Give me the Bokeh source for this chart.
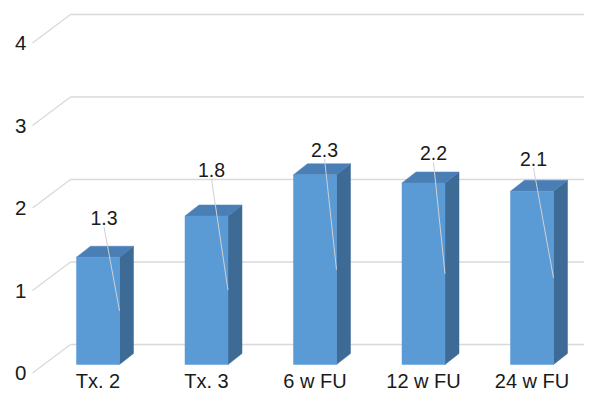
from bokeh.plotting import figure
from bokeh.models import Range1d
from bokeh.core.properties import value
from bokeh.embed import file_html
from bokeh.resources import INLINE

# ---------------- data ----------------
categories = ["Tx. 2", "Tx. 3", "6 w FU", "12 w FU", "24 w FU"]
values = [1.3, 1.8, 2.3, 2.2, 2.1]
value_labels = ["1.3", "1.8", "2.3", "2.2", "2.1"]
y_ticks = [0, 1, 2, 3, 4]
y_tick_labels = ["0", "1", "2", "3", "4"]

# ---------------- layout / style (pixels are figure pixels) ----------------
W, H = 584, 392
PX_X = 108.5             # px per category step
PX_Y = 82.5              # px per value unit
FIRST_CENTER_PX = 97.5   # first bar centre from figure left
ZERO_PX = 364            # bar-front plane zero from figure top
FRONT_OFF = -8.5 / PX_Y  # front plane (tick labels, diagonal start) vs bar plane
BACK_OFF = 20.0 / PX_Y   # back wall vs bar plane
DIAG_X0 = 32.0           # px, left end of floor diagonals
WALL_DX = 38.0 / PX_X
BAR_HALF = 21.5 / PX_X
DEPTH_X = 14.0 / PX_X
DEPTH_Y = 11.0 / PX_Y
TICK_LABEL_X = 26.0      # px, right edge of y tick labels
LABEL_DX = [0.055, 0.046, 0.088, 0.092, 0.014]
LABEL_DY = [0.48, 0.56, 0.30, 0.36, 0.39]
LEADER_GAP = 9.0 / PX_Y
CAT_CENTER = -16.0 / PX_Y

FRONT = "#5B9BD5"
TOP = "#4A7FB6"
SIDE = "#3E6A96"
GRID = "#D9D9D9"
LEADER = "#D0D0D0"
TEXT = "#1a1a1a"
FONT = "Liberation Sans"

x0 = -FIRST_CENTER_PX / PX_X
x1 = x0 + W / PX_X
y0 = -(H - ZERO_PX) / PX_Y
y1 = ZERO_PX / PX_Y

p = figure(width=W, height=H, x_range=Range1d(x0, x1), y_range=Range1d(y0, y1),
           x_axis_type=None, y_axis_type=None, toolbar_location=None, title=None,
           output_backend="svg", min_border=0, min_border_left=0, min_border_right=0,
           min_border_top=0, min_border_bottom=0, outline_line_color=None,
           background_fill_color="white", border_fill_color="white")

# y tick labels on the front plane
p.text(x=[x0 + TICK_LABEL_X / PX_X] * len(y_ticks), y=[t + FRONT_OFF for t in y_ticks],
       text=y_tick_labels, text_align="right", text_baseline="middle",
       text_font=value(FONT), text_font_size="20.5px", text_color=TEXT)

# back-wall gridlines and floor diagonals
dx0 = x0 + DIAG_X0 / PX_X
bx = dx0 + WALL_DX
p.segment(x0=[bx] * len(y_ticks), y0=[t + BACK_OFF for t in y_ticks],
          x1=[x1 + 1] * len(y_ticks), y1=[t + BACK_OFF for t in y_ticks],
          line_color=GRID, line_width=1.3)
p.segment(x0=[dx0] * len(y_ticks), y0=[t + FRONT_OFF for t in y_ticks],
          x1=[bx] * len(y_ticks), y1=[t + BACK_OFF for t in y_ticks],
          line_color=GRID, line_width=1.3)

# bars
idx = list(range(len(categories)))
lefts = [i - BAR_HALF for i in idx]
rights = [i + BAR_HALF for i in idx]
side_xs = [[r, r + DEPTH_X, r + DEPTH_X, r] for r in rights]
side_ys = [[0, DEPTH_Y, v + DEPTH_Y, v] for v in values]
top_xs = [[l, r, r + DEPTH_X, l + DEPTH_X] for l, r in zip(lefts, rights)]
top_ys = [[v, v, v + DEPTH_Y, v + DEPTH_Y] for v in values]
p.patches(xs=side_xs, ys=side_ys, fill_color=SIDE, line_color=SIDE, line_width=0.5)
p.patches(xs=top_xs, ys=top_ys, fill_color=TOP, line_color=TOP, line_width=0.5)
p.quad(left=lefts, right=rights, bottom=[0] * len(values), top=values,
       fill_color=FRONT, line_color=FRONT, line_width=0.5)

# data labels with leader lines
lx = [i + d for i, d in zip(idx, LABEL_DX)]
ly = [v + d for v, d in zip(values, LABEL_DY)]
p.segment(x0=lx, y0=[y - LEADER_GAP for y in ly], x1=rights, y1=[v / 2 for v in values],
          line_color=LEADER, line_width=1)
p.text(x=lx, y=ly, text=value_labels, text_align="center", text_baseline="middle",
       text_font=value(FONT), text_font_size="19.5px", text_color=TEXT)

# category labels
p.text(x=idx, y=[CAT_CENTER] * len(idx), text=categories, text_align="center",
       text_baseline="middle", text_font=value(FONT), text_font_size="20px",
       text_color=TEXT)

open("out.html", "w").write(file_html(p, INLINE))
